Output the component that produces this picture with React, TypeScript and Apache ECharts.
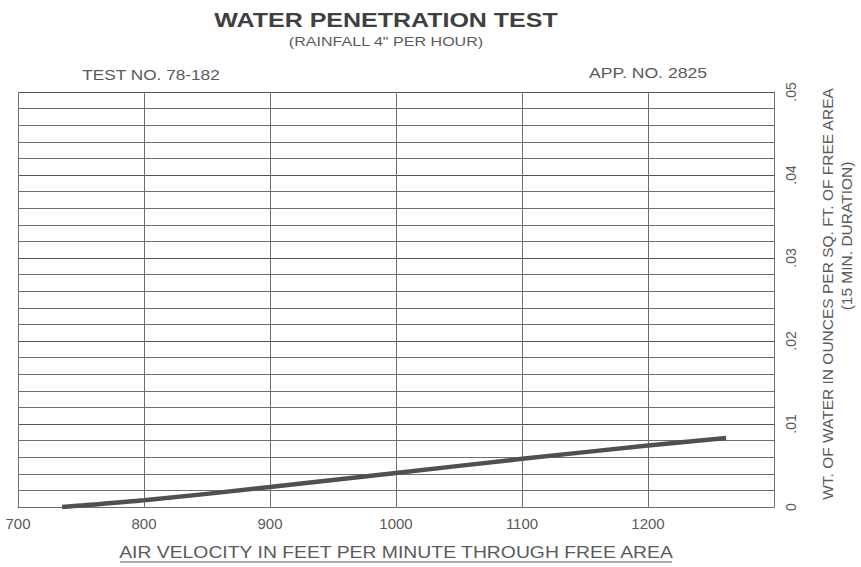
import React, { useEffect, useRef } from "react";
import * as echarts from "echarts";

const velocity = [735, 752, 800, 900, 1000, 1100, 1200, 1262];
const waterWeight = [0, 0.0002, 0.0008, 0.0024, 0.0041, 0.0058, 0.0074, 0.0083];
const yTickLabels = ["0", ".01", ".02", ".03", ".04", ".05"];
const xTickLabels = ["700", "800", "900", "1000", "1100", "1200", "1300"];

const FONT = "'Liberation Sans', Arial, sans-serif";
const TEXT = "#5a5a5a";
const GRID = "#6e6e6e";

function label(text: string, x: number, y: number, font: string, scaleX = 1, rotation = 0, fill = TEXT) {
  return {
    type: "text",
    x,
    y,
    scaleX,
    rotation,
    style: { text, x: 0, y: 0, align: "center", verticalAlign: "middle", fill, font },
  };
}

export default function App() {
  const ref = useRef<HTMLDivElement>(null);
  useEffect(() => {
    if (!ref.current) return;
    const chart = echarts.init(ref.current, null, { renderer: "svg" });
    chart.setOption({
      animation: false,
      backgroundColor: "#ffffff",
      textStyle: { fontFamily: FONT },
      grid: { left: 18, right: 87, top: 92, bottom: 60, containLabel: false },
      xAxis: {
        type: "value",
        min: 700,
        max: 1300,
        interval: 100,
        axisLine: { show: true, lineStyle: { color: GRID, width: 1 } },
        axisTick: { show: false },
        splitLine: { show: true, lineStyle: { color: GRID, width: 1 } },
        axisLabel: {
          showMaxLabel: false,
          margin: 9,
          color: TEXT,
          fontSize: 15,
          fontFamily: FONT,
          formatter: (v: number) => xTickLabels[Math.round((v - 700) / 100)] ?? "",
        },
      },
      yAxis: {
        type: "value",
        position: "right",
        min: 0,
        max: 0.05,
        interval: 0.01,
        axisLine: { show: true, lineStyle: { color: GRID, width: 1 } },
        axisTick: { show: false },
        splitLine: { show: true, lineStyle: { color: "#555", width: 1.2 } },
        minorTick: { show: false, splitNumber: 5 },
        minorSplitLine: { show: true, lineStyle: { color: GRID, width: 1 } },
        axisLabel: {
          rotate: 90,
          margin: 10,
          color: TEXT,
          fontSize: 14,
          fontFamily: FONT,
          formatter: (v: number) => yTickLabels[Math.round(v / 0.01)] ?? "",
        },
      },
      series: [
        {
          type: "line",
          data: velocity.map((v, i) => [v, waterWeight[i]]),
          smooth: 0.3,
          symbol: "none",
          lineStyle: { color: "#505050", width: 4.5 },
        },
      ],
      graphic: [
        label("WATER PENETRATION TEST", 386, 20, `bold 20px ${FONT}`, 1.25, 0, "#404040"),
        label("(RAINFALL 4\" PER HOUR)", 386, 42, `12px ${FONT}`, 1.34),
        label("TEST NO. 78-182", 151, 75, `14px ${FONT}`, 1.23),
        label("APP. NO. 2825", 648, 73, `14px ${FONT}`, 1.26),
        label("WT. OF WATER IN OUNCES PER SQ. FT. OF FREE AREA", 827, 294, `15.5px ${FONT}`, 1, Math.PI / 2),
        label("(15 MIN. DURATION)", 846, 236, `15.5px ${FONT}`, 1, Math.PI / 2),
        label("AIR VELOCITY IN FEET PER MINUTE THROUGH FREE AREA", 396, 553, `16px ${FONT}`, 1.21),
        {
          type: "line",
          shape: { x1: 120, y1: 562, x2: 672, y2: 562 },
          style: { stroke: TEXT, lineWidth: 1 },
        },
      ],
    });
    return () => chart.dispose();
  }, []);
  return (
    <div
      ref={ref}
      style={{ position: "fixed", left: 0, top: 0, width: 861, height: 567, background: "#fff" }}
    />
  );
}
